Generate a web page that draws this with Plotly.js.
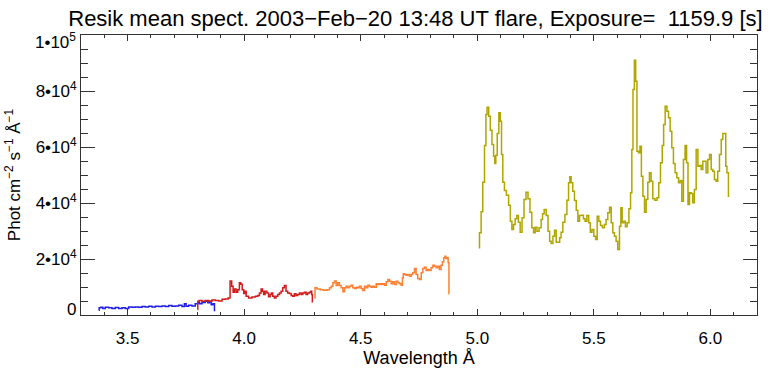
<!DOCTYPE html>
<html>
<head>
<meta charset="utf-8">
<script src="https://cdn.plot.ly/plotly-3.0.1.min.js"></script>
<style>html,body{margin:0;padding:0;background:#fff;}#chart{width:781px;height:368px;}</style>
</head>
<body>
<div id="chart"></div>
<script>
// Channel 1 (blue)
const blueX = [3.376,3.380,3.390,3.397,3.411,3.426,3.440,3.454,3.469,3.483,3.497,3.512,3.526,3.540,3.554,3.569,3.583,3.597,3.612,3.626,3.640,3.654,3.669,3.683,3.697,3.712,3.726,3.740,3.747,3.755,3.769,3.783,3.797,3.805,3.812,3.826,3.840,3.848,3.855,3.862,3.869,3.876];
const blueY = [1700,2600,2800,2300,2800,2600,2300,2700,2300,2600,2300,2900,2800,2900,2800,3000,2900,3100,2900,3100,3000,3200,3000,3400,3100,3200,3500,3000,4000,3100,3500,3200,4000,4500,4000,4500,4900,4400,4900,3700,4000,1600];
// Channel 2 (red)
const redX = [3.800,3.802,3.812,3.826,3.840,3.855,3.869,3.883,3.898,3.912,3.926,3.936,3.943,3.950,3.955,3.962,3.969,3.976,3.983,3.988,3.995,4.001,4.005,4.012,4.026,4.041,4.055,4.062,4.069,4.076,4.081,4.086,4.094,4.101,4.108,4.115,4.119,4.126,4.133,4.140,4.148,4.155,4.162,4.169,4.176,4.183,4.190,4.198,4.205,4.212,4.219,4.226,4.233,4.241,4.248,4.255,4.262,4.269,4.276,4.284,4.288,4.291,4.294];
const redY = [2000,4900,5200,4900,5200,4900,5400,5200,5000,5600,5700,6100,12100,10300,8100,9300,8100,9000,11500,11000,9000,7700,8500,6700,6100,6400,6700,7000,7900,9300,8500,7300,8500,7900,6500,7300,7900,6700,6100,6700,7300,7900,8500,9700,10500,8500,7900,7700,7000,6700,7600,7000,7300,7900,7300,7900,8100,7300,7900,8100,8500,7300,4600];
// Channel 3 (orange)
const orangeX = [4.302,4.306,4.319,4.334,4.348,4.362,4.370,4.377,4.384,4.391,4.398,4.405,4.412,4.420,4.427,4.434,4.441,4.448,4.455,4.462,4.470,4.477,4.484,4.491,4.498,4.505,4.513,4.520,4.527,4.534,4.541,4.548,4.555,4.563,4.570,4.577,4.584,4.591,4.598,4.606,4.613,4.620,4.627,4.634,4.641,4.648,4.656,4.663,4.670,4.677,4.681,4.684,4.691,4.698,4.706,4.713,4.720,4.727,4.734,4.741,4.748,4.756,4.763,4.770,4.777,4.784,4.791,4.798,4.806,4.813,4.820,4.827,4.834,4.841,4.848,4.853,4.859,4.863,4.867,4.873,4.877,4.880];
const orangeY = [6100,9700,9300,9000,8800,9000,9700,10300,11500,12100,10500,11500,10500,9700,8300,9700,10300,9700,10300,10650,9700,9460,9940,9700,10300,9460,8750,10300,9700,10650,10300,9940,10300,9940,11130,10890,11130,10890,11130,10650,11840,12680,12080,11130,11840,10890,12080,11490,11130,10650,13270,14700,14460,14220,14460,13870,14460,15060,16600,14460,13030,12680,15060,16600,17080,15890,16250,15890,16840,17800,17440,16840,17440,16250,17800,18990,20410,21010,20180,20410,18630,7560];
// Channel 4 (olive)
const oliveX = [5.006,5.013,5.020,5.027,5.035,5.039,5.045,5.053,5.059,5.067,5.073,5.077,5.082,5.089,5.096,5.102,5.106,5.113,5.120,5.130,5.139,5.145,5.152,5.159,5.166,5.173,5.180,5.188,5.196,5.205,5.213,5.222,5.230,5.238,5.245,5.252,5.260,5.270,5.278,5.282,5.292,5.299,5.308,5.313,5.321,5.328,5.335,5.342,5.351,5.356,5.363,5.371,5.381,5.388,5.395,5.399,5.406,5.413,5.421,5.428,5.435,5.442,5.452,5.459,5.466,5.474,5.482,5.488,5.496,5.504,5.511,5.518,5.525,5.532,5.542,5.549,5.556,5.564,5.571,5.578,5.585,5.592,5.599,5.606,5.614,5.618,5.625,5.632,5.639,5.647,5.654,5.661,5.665,5.671,5.677,5.682,5.688,5.695,5.701,5.707,5.714,5.721,5.728,5.735,5.742,5.749,5.757,5.767,5.775,5.782,5.790,5.797,5.802,5.810,5.817,5.824,5.831,5.838,5.845,5.852,5.860,5.867,5.874,5.881,5.888,5.895,5.901,5.907,5.914,5.921,5.928,5.935,5.943,5.950,5.957,5.964,5.971,5.978,5.985,5.993,6.000,6.007,6.014,6.021,6.028,6.035,6.043,6.050,6.057,6.064,6.068,6.074,6.081];
const oliveY = [23990,29340,36840,47430,60530,71600,74220,71000,66000,60890,56720,54100,57080,64810,72190,69220,57310,47430,44460,42790,39220,33510,30530,32320,34340,35530,33150,29580,34700,41250,43860,41480,36720,31130,29340,31370,29940,31130,34100,36130,37670,35530,29940,26370,25530,28150,30290,26010,26010,27560,29580,33150,35890,41010,47200,49340,47200,44220,40890,37440,33510,35530,35650,34340,33510,35530,32910,29580,30530,28150,26960,35290,33510,31960,31130,32320,34100,36480,38510,32910,29340,28150,26370,23390,31720,38270,32910,33510,31490,32910,37910,43630,59100,80530,91000,83500,58500,57910,60290,49580,42440,36720,41250,47430,50770,47790,41480,41010,41840,47200,54340,60530,68030,74570,72790,70410,65650,59690,54100,50770,48980,47200,48030,40650,55530,60530,54340,39460,43630,43390,40060,44820,59100,53150,53390,51960,54930,54930,50770,55530,57310,51960,51360,48390,47790,51360,57310,62670,64810,64810,53150,50770,42440];

const xTickVals = [3.5, 4.0, 4.5, 5.0, 5.5, 6.0];
const xTickText = ['3.5', '4.0', '4.5', '5.0', '5.5', '6.0'];
const yTickVals = [0, 20000, 40000, 60000, 80000, 100000];
const yTickText = ['0', '2•10<sup>4</sup>', '4•10<sup>4</sup>', '6•10<sup>4</sup>', '8•10<sup>4</sup>', '1•10<sup>5</sup>'];

const font = 'Liberation Sans, Arial, sans-serif';
function tr(x, y, color) {
  return {x: x, y: y, type: 'scatter', mode: 'lines', line: {color: color, width: 1.5, shape: 'hvh'}, hoverinfo: 'skip'};
}
const data = [
  tr(blueX, blueY, '#1e1ee6'),
  tr(redX, redY, '#d21c1c'),
  tr(orangeX, orangeY, '#ff7f32'),
  tr(oliveX, oliveY, '#b0a600')
];
// Middle tick labels come from the axis; the end labels (0 and 1e5) sit slightly inward as in the reference.
const axisTickText = yTickText.map((t, i) => (i === 0 || i === yTickText.length - 1) ? '' : t);
const axisCommon = {
  showgrid: false, zeroline: false, showline: true, linecolor: '#333', linewidth: 1,
  mirror: 'ticks', ticks: 'inside', tickcolor: '#333', tickwidth: 1,
  tickfont: {family: font, size: 17, color: '#000'}
};
const edgeLabel = (i, shift) => ({
  text: yTickText[i], xref: 'paper', yref: 'y', x: 0, y: yTickVals[i], xanchor: 'right', yanchor: 'middle',
  xshift: -3, yshift: shift, showarrow: false, font: {family: font, size: 17, color: '#000'}
});
const layout = {
  width: 781, height: 368,
  margin: {l: 81, r: 24, t: 35, b: 53},
  paper_bgcolor: '#fff', plot_bgcolor: '#fff',
  showlegend: false,
  font: {family: font, color: '#000'},
  title: {text: 'Resik mean spect. 2003\u2212Feb\u221220 13:48 UT flare, Exposure=  1159.9 [s]', font: {family: font, size: 22, color: '#000'}, x: 0.532, xanchor: 'center', y: 0.951, yanchor: 'middle'},
  xaxis: Object.assign({}, axisCommon, {
    range: [3.3, 6.2], tickmode: 'array', tickvals: xTickVals, ticktext: xTickText, ticklen: 6,
    ticklabelstandoff: 8,
    minor: {dtick: 0.1, tick0: 3.3, ticks: 'inside', ticklen: 3, tickcolor: '#333'},
    title: {text: 'Wavelength Å', font: {family: font, size: 18, color: '#000'}, standoff: 0}
  }),
  yaxis: Object.assign({}, axisCommon, {
    range: [0, 100000], tickmode: 'array', tickvals: yTickVals, ticktext: axisTickText, ticklen: 14,
    minor: {dtick: 5000, tick0: 0, ticks: 'inside', ticklen: 7, tickcolor: '#333'},
    title: {text: 'Phot cm<sup>\u22122</sup> s<sup>\u22121</sup> Å<sup>\u22121</sup>', font: {family: font, size: 17, color: '#000'}, standoff: 10}
  }),
  annotations: [edgeLabel(0, 6), edgeLabel(yTickVals.length - 1, -6)]
};
Plotly.newPlot('chart', data, layout, {displayModeBar: false, staticPlot: true});
</script>
</body>
</html>
